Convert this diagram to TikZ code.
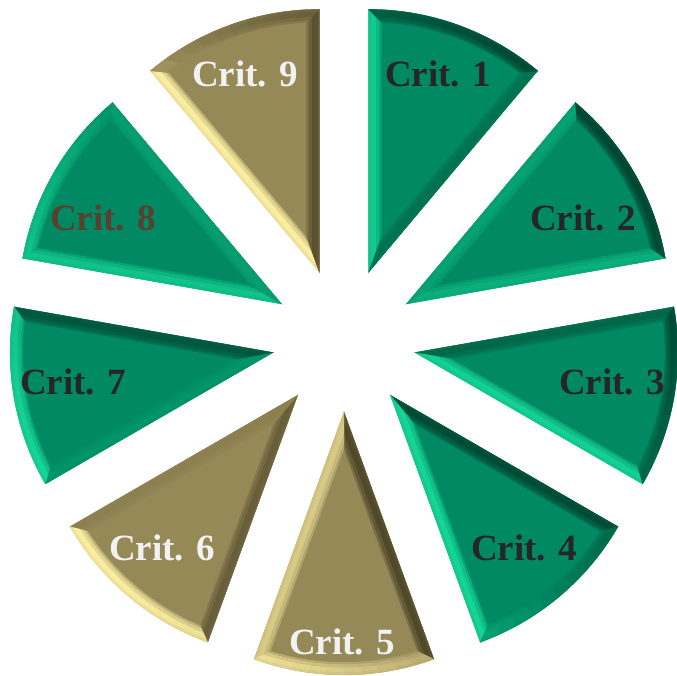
\documentclass[tikz,border=0pt]{standalone}
\usepackage{fontspec}
\setmainfont{Liberation Serif}
\definecolor{gbase}{RGB}{0,137,98}
\definecolor{glight}{RGB}{22,214,150}
\definecolor{gdark}{RGB}{0,70,48}
\definecolor{kbase}{RGB}{150,137,88}
\definecolor{klight}{RGB}{252,238,160}
\definecolor{kdark}{RGB}{78,70,40}
\definecolor{txtdark}{RGB}{38,38,38}
\definecolor{txtbrown}{RGB}{90,64,46}
\definecolor{txtwhite}{RGB}{242,242,242}
\newcommand\setshade[3]{%
  \pgfmathsetmacro\sval{#2}%
  \pgfmathtruncatemacro\pcv{min(100,100*(abs(\sval)+0.001)^0.8)}%
  \ifdim\sval pt<0pt\colorlet{#1}{#3dark!\pcv!#3base}\else\colorlet{#1}{#3light!\pcv!#3base}\fi}
\tikzset{critlabel/.style={font=\fontsize{37}{40}\selectfont\bfseries, inner sep=0pt}}
\begin{document}
\begin{tikzpicture}[x=1pt,y=1pt]
\useasboundingbox (0,0) rectangle (677,676);
\fill[white] (0,0) rectangle (677,676);
\pgfmathsetmacro\Rad{263}
\pgfmathsetmacro\bv{13}
\pgfmathsetmacro\ap{\bv/sin(20)}
\pgfmathsetmacro\Ri{\Rad-\bv}
\pgfmathsetmacro\tq{-\ap*cos(20)+\Ri*sqrt(1-(\bv/\Ri)^2)}
\pgfmathsetmacro\Px{\ap+\tq*cos(20)}
\pgfmathsetmacro\Py{\tq*sin(20)}
\pgfmathsetmacro\phiang{atan(\Py/\Px)}
\foreach \k/\fm/\tc/\lx/\ly/\ou/\ol in {
  1/g/txtdark/438/602/99/99,
  2/g/txtdark/583/458/99/99,
  3/g/txtdark/612/294/99/99,
  4/g/txtdark/524/128/99/99,
  5/k/txtwhite/342/34/99/99,
  6/k/txtwhite/162/128/99/99,
  7/g/txtdark/73/294/99/99,
  8/g/txtbrown/103/458/99/0.2,
  9/k/txtwhite/245/602/99/99}{
  \pgfmathsetmacro\ang{90-(\k-1)*40-20}
  \begin{scope}[shift={({344+72*cos(\ang)},{336+72*sin(\ang)})}, rotate=\ang]
    \pgfmathsetmacro\su{\ou>50 ? cos(\ang+110-215) : \ou}
    \pgfmathsetmacro\sl{\ol>50 ? cos(\ang-110-215) : \ol}
    \fill[\fm base] (0,0) -- (-20:\Rad) arc[start angle=-20, end angle=20, radius=\Rad] -- cycle;
    \foreach \fa/\fb/\w in {0/0.2/0.85, 0.2/0.6/1, 0.6/0.85/0.7, 0.85/1/0.35}{
      \pgfmathsetmacro\qax{(1-\fa)*\Rad*cos(20)+\fa*\Px}
      \pgfmathsetmacro\qay{(1-\fa)*\Rad*sin(20)+\fa*\Py}
      \pgfmathsetmacro\qbx{(1-\fb)*\Rad*cos(20)+\fb*\Px}
      \pgfmathsetmacro\qby{(1-\fb)*\Rad*sin(20)+\fb*\Py}
      \pgfmathsetmacro\ra{\Rad-\fa*\bv}
      \pgfmathsetmacro\rb{\Rad-\fb*\bv}
      \pgfmathsetmacro\ea{atan(\qay/\qax)}
      \pgfmathsetmacro\eb{atan(\qby/\qbx)}
      \pgfmathsetmacro\xa{\fa*\ap}
      \pgfmathsetmacro\xb{\fb*\ap}
      \setshade{facu}{\su*\w}{\fm}
      \fill[facu, draw=facu, line width=0.3pt] (\xa,0) -- (\qax,\qay) -- (\qbx,\qby) -- (\xb,0) -- cycle;
      \setshade{facl}{\sl*\w}{\fm}
      \fill[facl, draw=facl, line width=0.3pt] (\xa,0) -- (\qax,-\qay) -- (\qbx,-\qby) -- (\xb,0) -- cycle;
      \foreach \i in {0,...,9}{
        \pgfmathsetmacro\aA{-\ea+2*\ea*\i/10}
        \pgfmathsetmacro\aB{-\ea+2*\ea*(\i+1)/10}
        \pgfmathsetmacro\bA{-\eb+2*\eb*\i/10}
        \pgfmathsetmacro\bB{-\eb+2*\eb*(\i+1)/10}
        \setshade{faca}{\w*cos(\ang-20+4*\i+2-215)}{\fm}
        \fill[faca, draw=faca, line width=0.3pt] (\aA:\ra) arc[start angle=\aA, end angle=\aB, radius=\ra]
          -- (\bB:\rb) arc[start angle=\bB, end angle=\bA, radius=\rb] -- cycle;
      }
    }
    \fill[\fm base] (\ap,0) -- (\Px,-\Py) arc[start angle=-\phiang, end angle=\phiang, radius=\Ri] -- cycle;
  \end{scope}
  \node[critlabel, text=\tc] (L\k) at (\lx,\ly) {Crit. \k};
}
\end{tikzpicture}
\end{document}
